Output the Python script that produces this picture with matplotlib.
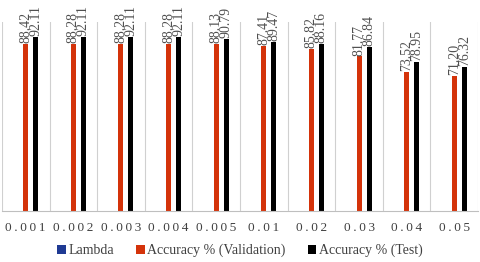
import numpy as np
import matplotlib.pyplot as plt

plt.rcParams['font.family'] = ['Liberation Serif', 'DejaVu Serif']

lambdas = ["0.001", "0.002", "0.003", "0.004", "0.005", "0.01", "0.02", "0.03", "0.04", "0.05"]
lambda_vals = [0.001, 0.002, 0.003, 0.004, 0.005, 0.01, 0.02, 0.03, 0.04, 0.05]
acc_val = [88.42, 88.28, 88.28, 88.28, 88.13, 87.41, 85.82, 81.77, 73.52, 71.20]
acc_test = [92.11, 92.11, 92.11, 92.11, 90.79, 89.47, 88.16, 86.84, 78.95, 76.32]

fig = plt.figure(figsize=(4.8, 2.62), dpi=100)
ax = fig.add_axes([0.004, 0.195, 0.992, 0.721])

x = np.arange(len(lambdas))
w = 0.105
off = 0.21
ax.bar(x - off, lambda_vals, w, color='#1F3A93', label='Lambda')
ax.bar(x, acc_val, w, color='#D4330A', label='Accuracy % (Validation)')
ax.bar(x + off, acc_test, w, color='#000000', label='Accuracy % (Test)')

for i in range(len(x)):
    ax.text(x[i], acc_val[i] + 0.5, f"{acc_val[i]:.2f}", rotation=90, ha='center', va='bottom',
            fontsize=10, color='#505050', clip_on=False)
    ax.text(x[i] + off, acc_test[i] + 0.5, f"{acc_test[i]:.2f}", rotation=90, ha='center', va='bottom',
            fontsize=10, color='#505050', clip_on=False)

ax.set_xlim(-0.5, len(x) - 0.5)
ax.set_ylim(0, 100)
ax.set_yticks([])
ax.set_xticks(x)
ax.set_xticklabels(["\u2009".join(s) for s in lambdas], fontsize=9.5, color='#404040')
ax.tick_params(axis='x', length=0, pad=8)
for b in np.arange(-0.5, len(x), 1.0):
    ax.axvline(b, color='#D0D0D0', lw=0.8, zorder=0)
for s in ['top', 'right', 'left']:
    ax.spines[s].set_visible(False)
ax.spines['bottom'].set_color('#BFBFBF')

ax.legend(loc='upper center', bbox_to_anchor=(0.5, -0.16), ncol=3, frameon=False,
          fontsize=10, handlelength=0.6, handleheight=0.6, handletextpad=0.2, columnspacing=1.6,
          labelcolor='#404040', borderaxespad=0, borderpad=0.2)

fig.savefig('out.png', dpi=100)
